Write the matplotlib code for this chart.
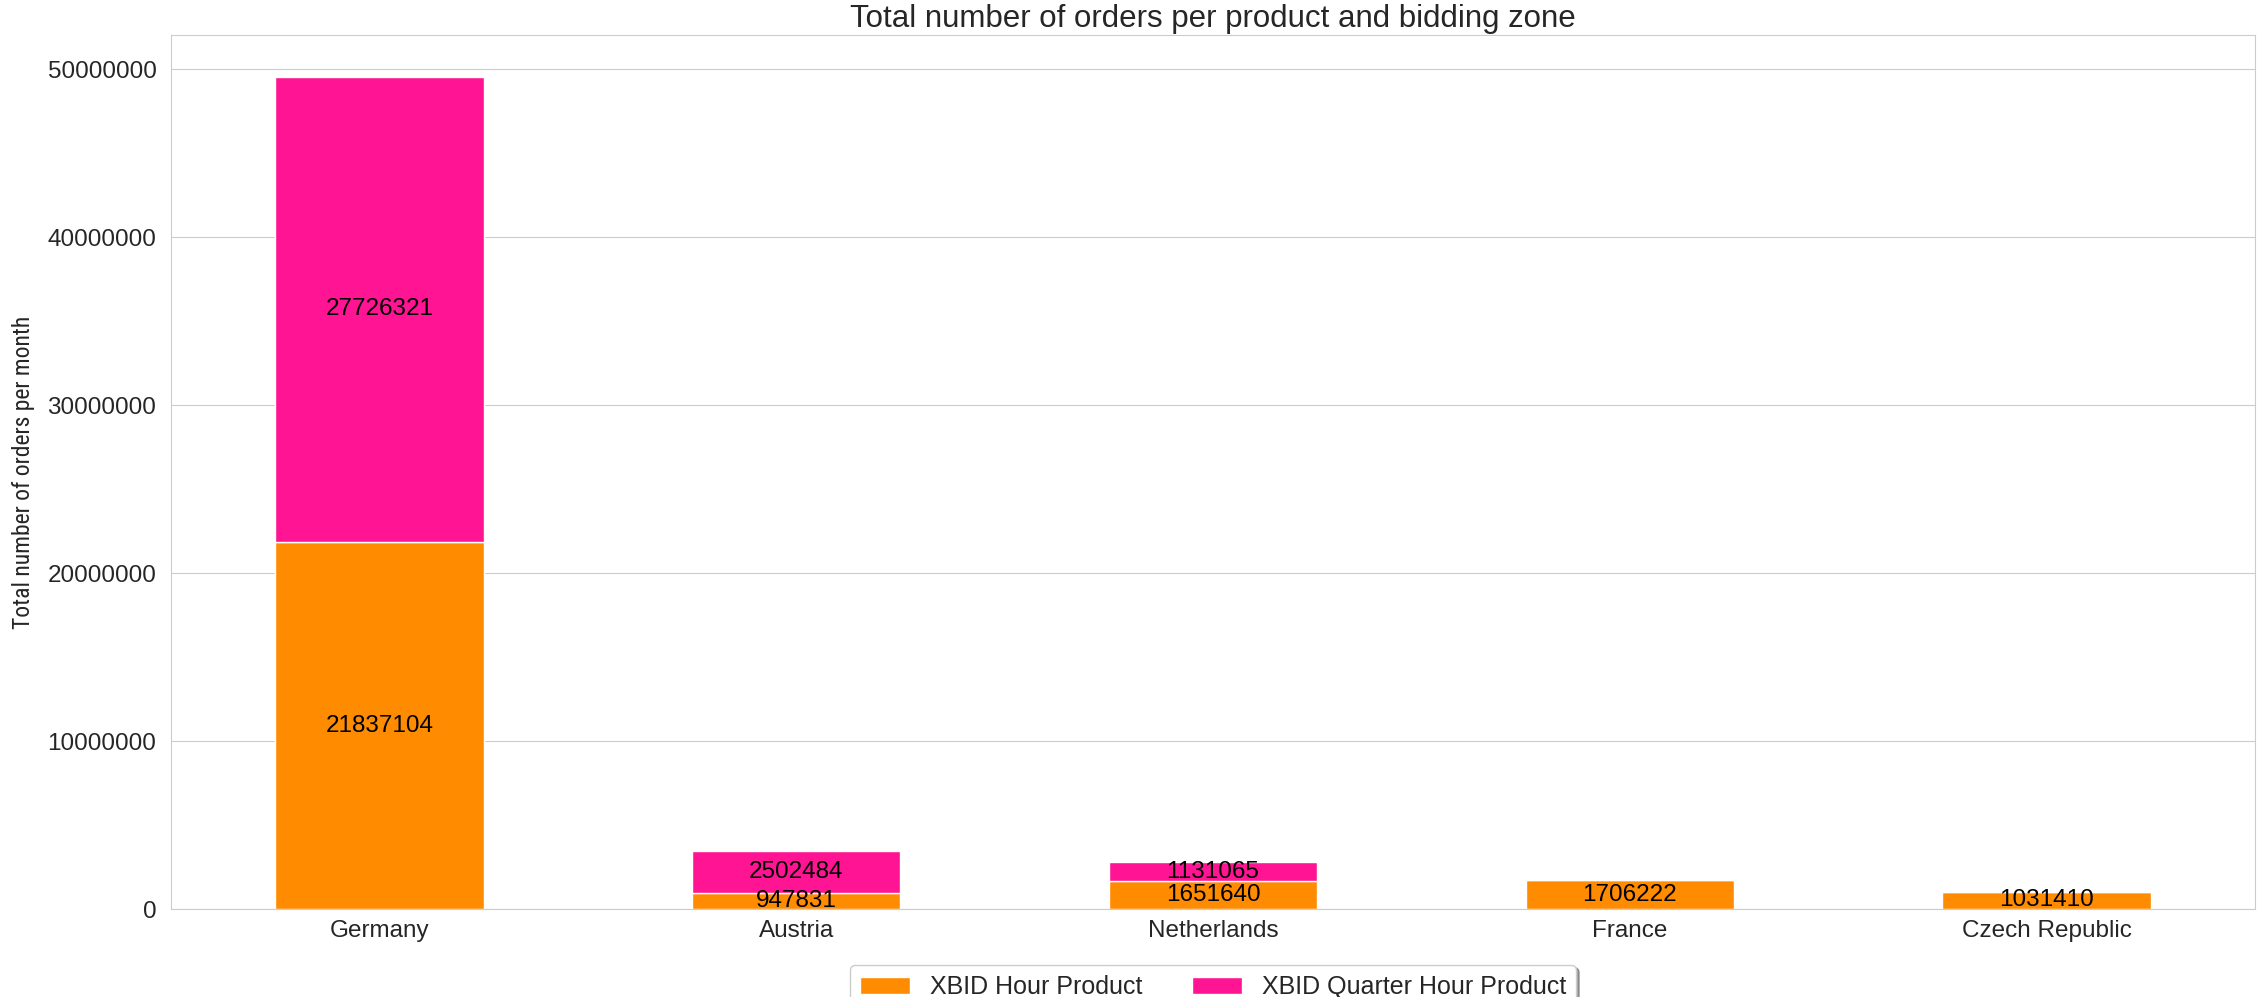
import numpy as np
import matplotlib
matplotlib.use('Agg')
import matplotlib.pyplot as plt
import seaborn as sns

zones = ['Germany', 'Austria', 'Netherlands', 'France', 'Czech Republic']
hour_orders = [21837104, 947831, 1651640, 1706222, 1031410]
quarter_orders = [27726321, 2502484, 1131065, 0, 0]
series_names = ['XBID Hour Product', 'XBID Quarter Hour Product']
colors = ['darkorange', 'deeppink']

sns.set_style('whitegrid')
plt.rcParams['font.family'] = ['Liberation Sans', 'DejaVu Sans']

fig = plt.figure(figsize=(22.62, 9.97), dpi=100)
ax = fig.add_subplot(111)
fig.subplots_adjust(left=171 / 2262, right=2255 / 2262, bottom=1 - 909 / 997, top=1 - 35 / 997)

x = np.arange(len(zones))
hour = np.array(hour_orders)
quarter = np.array(quarter_orders)

b1 = ax.bar(x, hour, width=0.5, color=colors[0], edgecolor='white', linewidth=1, label=series_names[0])
b2 = ax.bar(x, quarter, width=0.5, bottom=hour, color=colors[1], edgecolor='white', linewidth=1,
            label=series_names[1])

ax.bar_label(b1, labels=[str(v) if v else '' for v in hour], label_type='center', fontsize=17.5, color='black')
ax.bar_label(b2, labels=[str(v) if v else '' for v in quarter], label_type='center', fontsize=17.5,
             color='black')

ax.set_xticks(x)
ax.set_xticklabels(zones)
ax.set_xlim(-0.5, 4.5)
ax.ticklabel_format(style='plain', axis='y')
ax.tick_params(axis='x', labelsize=17.5, pad=8, length=0)
ax.tick_params(axis='y', labelsize=17.5, pad=10.5, length=0)
ax.xaxis.grid(False)

ax.set_title('Total number of orders per product and bidding zone', fontsize=22.5, color='.15')
# narrow face for the y label, if one is around
ax.set_ylabel('Total number of orders per month', fontsize=17, labelpad=9,
              family=['Liberation Sans Narrow', 'Roboto Condensed', 'Liberation Sans', 'DejaVu Sans'],
              fontstretch='condensed')

ax.legend(loc='upper center', bbox_to_anchor=(0.5, -(965 - 909) / 874), borderaxespad=0,
          ncol=2, shadow=True, fontsize=18)

fig.savefig('out.png', dpi=100)
